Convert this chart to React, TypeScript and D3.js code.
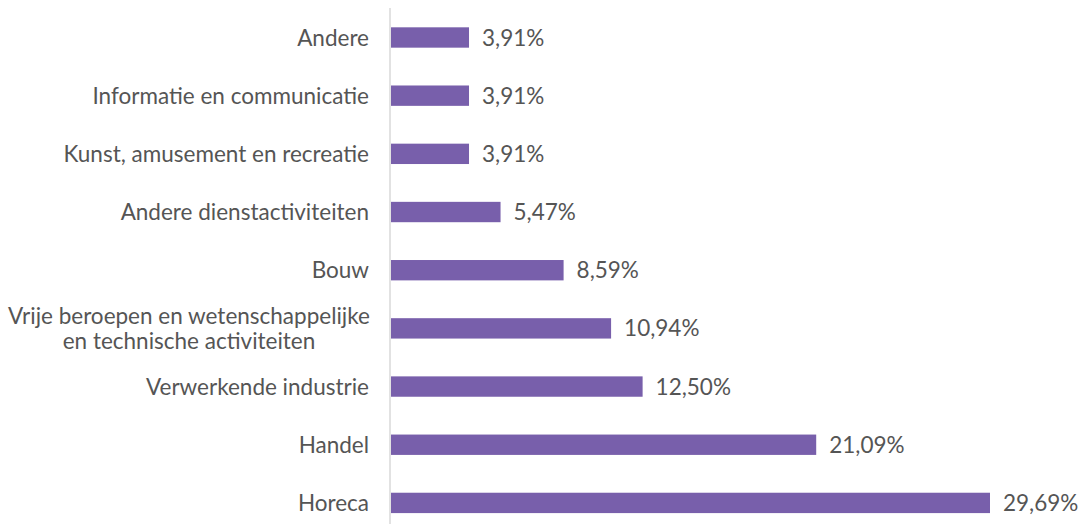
import React from "react";
import * as d3 from "d3";

const categories: string[][] = [
  ["Andere"],
  ["Informatie en communicatie"],
  ["Kunst, amusement en recreatie"],
  ["Andere dienstactiviteiten"],
  ["Bouw"],
  ["Vrije beroepen en wetenschappelijke", "en technische activiteiten"],
  ["Verwerkende industrie"],
  ["Handel"],
  ["Horeca"],
];
const values: number[] = [3.91, 3.91, 3.91, 5.47, 8.59, 10.94, 12.5, 21.09, 29.69];

const W = 1081;
const H = 524;
const axisX = 390;
const font = "'Lato', 'Open Sans', sans-serif";
const fontSize = 22.5;
const textColor = "#555555";
const barColor = "#785fab";

export default function App() {
  const keys = categories.map((_, i) => String(i));
  const y = d3.scaleBand<string>().domain(keys).range([8.4, 532]).paddingInner(0.65).paddingOuter(0.325);
  const x = d3.scaleLinear().domain([0, 29.69]).range([axisX, 990]);
  const fmt = (v: number) => v.toFixed(2).replace(".", ",") + "%";
  const labelX = 369;
  const multiCenter = 189;
  return (
    <svg width={W} height={H} style={{ position: "absolute", left: 0, top: 0, background: "#fff" }}>
      <line x1={axisX} x2={axisX} y1={8} y2={524} stroke="#d9d9d9" strokeWidth={1.5} />
      {values.map((v, i) => {
        const yy = y(String(i))!;
        const bh = y.bandwidth();
        const cy = yy + bh / 2;
        const lines = categories[i];
        return (
          <g key={i}>
            <rect x={x(0) + 1} y={yy} width={x(v) - x(0) - 1} height={bh} fill={barColor} />
            <text x={x(v) + 13} y={cy} dy="0.36em" fontFamily={font} fontSize={fontSize} fill={textColor}>
              {fmt(v)}
            </text>
            {lines.length === 1 ? (
              <text x={labelX} y={cy} dy="0.36em" textAnchor="end" fontFamily={font} fontSize={fontSize} fill={textColor}>
                {lines[0]}
              </text>
            ) : (
              lines.map((ln, j) => (
                <text
                  key={j}
                  x={multiCenter}
                  y={cy + (j - (lines.length - 1) / 2) * 25}
                  dy="0.36em"
                  textAnchor="middle"
                  fontFamily={font}
                  fontSize={fontSize}
                  fill={textColor}
                >
                  {ln}
                </text>
              ))
            )}
          </g>
        );
      })}
    </svg>
  );
}
